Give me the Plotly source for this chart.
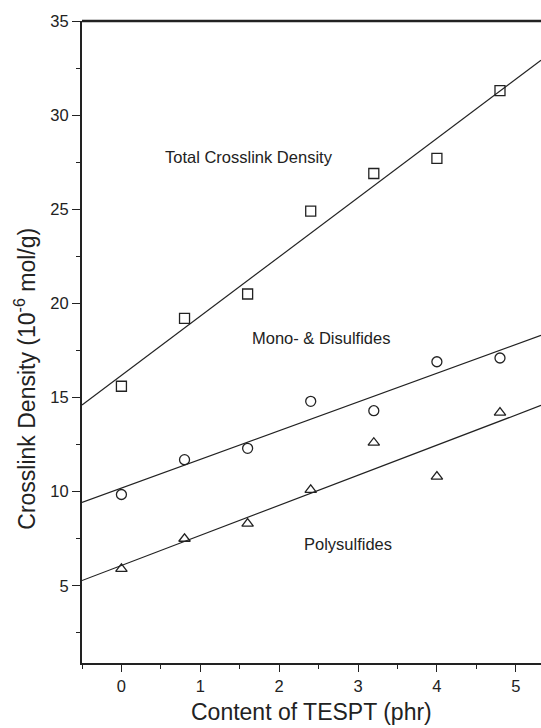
import numpy as np
import plotly.graph_objects as go

tespt = [0, 0.8, 1.6, 2.4, 3.2, 4.0, 4.8]
total = [15.6, 19.2, 20.5, 24.9, 26.9, 27.7, 31.3]
mono_di = [9.85, 11.7, 12.3, 14.8, 14.3, 16.9, 17.1]
poly = [5.9, 7.5, 8.3, 10.1, 12.6, 10.8, 14.2]

x_range = [-0.5, 5.32]
y_range = [0.9, 35]
ink = "#222222"
font = "Liberation Sans, Arial, sans-serif"

fig = go.Figure()
series = [(total, "square-open"), (mono_di, "circle-open"), (poly, "triangle-up-open")]
xl = np.array(x_range)
for ys, sym in series:
    k, b = np.polyfit(tespt, ys, 1)
    fig.add_trace(go.Scatter(x=xl, y=k * xl + b, mode="lines",
                             line=dict(color=ink, width=1.2), showlegend=False, hoverinfo="skip"))
    fig.add_trace(go.Scatter(x=tespt, y=ys, mode="markers",
                             marker=dict(symbol=sym, size=10, color=ink, line=dict(width=1.3, color=ink)),
                             showlegend=False))

fig.add_annotation(x=0.53, y=27.8, text="Total Crosslink Density", showarrow=False,
                   xanchor="left", font=dict(size=16.5, color=ink, family=font))
fig.add_annotation(x=1.63, y=18.17, text="Mono- &amp; Disulfides", showarrow=False,
                   xanchor="left", font=dict(size=16.5, color=ink, family=font))
fig.add_annotation(x=2.29, y=7.23, text="Polysulfides", showarrow=False,
                   xanchor="left", font=dict(size=16.5, color=ink, family=font))

# axis titles
fig.add_annotation(xref="paper", yref="paper", x=0.5, y=0, yshift=-49, xanchor="center", yanchor="middle",
                   text="Content of TESPT (phr)", showarrow=False, font=dict(size=23, color=ink, family=font))
fig.add_annotation(xref="paper", yref="y", x=0, xshift=-57, y=16.0, xanchor="center", yanchor="middle",
                   text="Crosslink Density (10<sup>-6</sup> mol/g)", textangle=-90, showarrow=False,
                   font=dict(size=23, color=ink, family=font))

fig.update_layout(
    width=541, height=728,
    margin=dict(l=82, r=0, t=21, b=65),
    paper_bgcolor="white", plot_bgcolor="white",
    font=dict(family=font, color=ink, size=16.5),
    xaxis=dict(range=x_range, tickmode="array", tickvals=[0, 1, 2, 3, 4, 5],
               ticks="outside", ticklen=7, tickwidth=1.3, tickcolor=ink,
               minor=dict(tickvals=[-0.5, 0.5, 1.5, 2.5, 3.5, 4.5], ticks="outside", ticklen=4, tickcolor=ink, tickwidth=1.3),
               showline=True, linecolor=ink, linewidth=2, showgrid=False, zeroline=False,
               tickfont=dict(size=16.5)),
    yaxis=dict(range=y_range, tickmode="array", tickvals=[5, 10, 15, 20, 25, 30, 35],
               ticks="outside", ticklen=8, tickwidth=1.3, tickcolor=ink,
               minor=dict(tickvals=[2.5, 7.5, 12.5, 17.5, 22.5, 27.5, 32.5], ticks="outside", ticklen=4, tickcolor=ink, tickwidth=1.3),
               showline=True, linecolor=ink, linewidth=2, showgrid=False, zeroline=False,
               tickfont=dict(size=16.5)),
)
fig.add_shape(type="line", xref="paper", yref="paper", x0=0, x1=1, y0=1, y1=1,
              line=dict(color=ink, width=2.5))
fig.write_html("out.html")
